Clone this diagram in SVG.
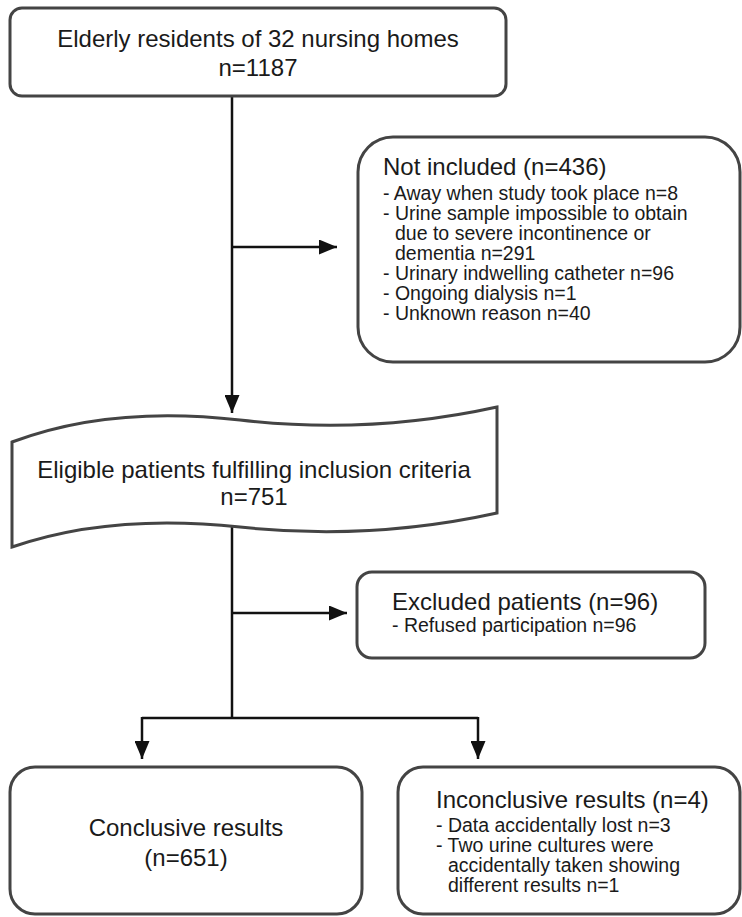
<svg xmlns="http://www.w3.org/2000/svg" width="742" height="917" viewBox="0 0 742 917">
<style>
.box{fill:#fff;stroke:#444;stroke-width:3}
.edge{fill:none;stroke:#111;stroke-width:2.5}
text{font-family:"Liberation Sans",Arial,sans-serif;fill:#1a1a1a}
.h{font-size:24px}
.s{font-size:19.5px}
.c{text-anchor:middle}
</style>
<defs>
<marker id="arr" markerUnits="userSpaceOnUse" markerWidth="18" markerHeight="15" refX="18" refY="7.5" orient="auto">
<path d="M0,0 L18,7.5 L0,15 Z" fill="#111"/>
</marker>
</defs>
<g id="connectors">
<line class="edge" x1="232" y1="96" x2="232" y2="413" marker-end="url(#arr)"/>
<line class="edge" x1="232" y1="247" x2="337" y2="247" marker-end="url(#arr)"/>
<line class="edge" x1="232" y1="527" x2="232" y2="718"/>
<line class="edge" x1="232" y1="613" x2="347" y2="613" marker-end="url(#arr)"/>
<line class="edge" x1="142" y1="718" x2="478" y2="718"/>
<line class="edge" x1="142" y1="717" x2="142" y2="759" marker-end="url(#arr)"/>
<line class="edge" x1="478" y1="717" x2="478" y2="759" marker-end="url(#arr)"/>
</g>
<g id="elderly">
<rect class="box" x="10" y="8" width="496" height="88" rx="12"/>
<text class="h c" x="258" y="47">Elderly residents of 32 nursing homes</text>
<text class="h c" x="258" y="76">n=1187</text>
</g>
<g id="not-included">
<rect class="box" x="358" y="137" width="382" height="225" rx="35"/>
<text class="h" x="383" y="175">Not included (n=436)</text>
<text class="s" x="383" y="200">- Away when study took place n=8</text>
<text class="s" x="383" y="220">- Urine sample impossible to obtain</text>
<text class="s" x="395" y="240">due to severe incontinence or</text>
<text class="s" x="395" y="260">dementia n=291</text>
<text class="s" x="383" y="280">- Urinary indwelling catheter n=96</text>
<text class="s" x="383" y="300">- Ongoing dialysis n=1</text>
<text class="s" x="383" y="320">- Unknown reason n=40</text>
</g>
<g id="eligible">
<path class="box" d="M12,442 Q110,405 240,420 T497,407 L497,513 Q370,541 240,527 T12,547 Z"/>
<text class="h c" x="254" y="478">Eligible patients fulfilling inclusion criteria</text>
<text class="h c" x="254" y="505">n=751</text>
</g>
<g id="excluded">
<rect class="box" x="357" y="572" width="348" height="86" rx="15"/>
<text class="h" x="392" y="610">Excluded patients (n=96)</text>
<text class="s" x="392" y="632">- Refused participation n=96</text>
</g>
<g id="conclusive">
<rect class="box" x="10" y="767" width="352" height="147" rx="25"/>
<text class="h c" x="186" y="836">Conclusive results</text>
<text class="h c" x="186" y="866">(n=651)</text>
</g>
<g id="inconclusive">
<rect class="box" x="398" y="767" width="342" height="147" rx="25"/>
<text class="h" x="436" y="808">Inconclusive results (n=4)</text>
<text class="s" x="436" y="832">- Data accidentally lost n=3</text>
<text class="s" x="436" y="852">- Two urine cultures were</text>
<text class="s" x="448" y="872">accidentally taken showing</text>
<text class="s" x="448" y="892">different results n=1</text>
</g>
</svg>
